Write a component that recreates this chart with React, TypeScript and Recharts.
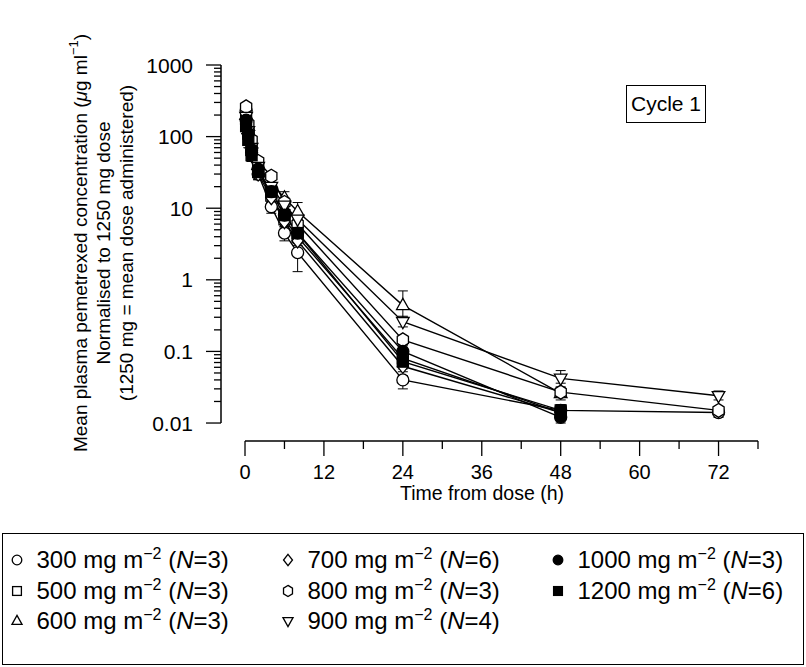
import React from "react"
import { ComposedChart, Line, XAxis, YAxis, ErrorBar, ReferenceLine } from "recharts"

// sampling times (h)
const times = [0.17, 0.5, 1, 2, 4, 6, 8, 24, 48, 72]

// mean concentrations, normalised to 1250 mg (ug/ml)
const c300 = [230, 120, 60, 30, 10.5, 4.5, 2.4, 0.04, 0.015, 0.014]
const c500 = [180, 110, 65, 33, 15, 7, 4, 0.08, 0.014, null]
const c600 = [200, 140, 80, 40, 22, 14, 9, 0.44, 0.026, null]
const c700 = [150, 100, 55, 30, 14, 6.5, 3.5, 0.062, 0.014, null]
const c800 = [260, 150, 90, 45, 28, 12, 6, 0.145, 0.027, 0.015]
const c900 = [190, 120, 70, 38, 20, 11, 7, 0.26, 0.042, 0.024]
const c1000 = [170, 110, 65, 35, 17, 8, 4.5, 0.1, 0.012, null]
const c1200 = [140, 90, 55, 32, 17, 8, 4.5, 0.072, 0.015, null]

// error bars [below, above]
const e300 = [[40, 30], [20, 20], [10, 10], [5, 5], [2, 2], [1, 1], [1.1, 0.8], [0.01, 0.006], [0.003, 0.003], [0.002, 0.003]]
const e500 = [[30, 30], [20, 20], [10, 10], [5, 5], [3, 3], [1, 1], [1, 1], [0.01, 0.01], [0.002, 0.002], null]
const e600 = [[40, 40], [20, 20], [10, 15], [6, 6], [4, 4], [3, 3], [2, 3], [0.14, 0.26], [0.005, 0.006], null]
const e700 = [[40, 50], [20, 20], [10, 10], [5, 5], [3, 3], [1, 1], [1, 1], [0.01, 0.01], [0.002, 0.002], null]
const e800 = [[30, 30], [20, 20], [10, 10], [5, 5], [3, 3], [2, 2], [1, 1], [0.02, 0.02], [0.004, 0.004], [0.002, 0.002]]
const e900 = [[30, 30], [20, 20], [10, 10], [5, 5], [3, 3], [2, 2], [1, 1], [0.04, 0.05], [0.006, 0.012], [0.003, 0.004]]
const e1000 = [[30, 30], [20, 20], [10, 10], [5, 5], [3, 3], [1, 1], [1, 1], [0.02, 0.02], [0.002, 0.002], null]
const e1200 = [[30, 30], [20, 20], [10, 10], [5, 5], [3, 3], [1, 1], [1, 1], [0.015, 0.015], [0.002, 0.003], null]

const doses = ["300", "500", "600", "700", "800", "900", "1000", "1200"]
const nPatients = [3, 3, 3, 6, 3, 4, 3, 6]

const xTicks = [0, 6, 12, 18, 24, 30, 36, 42, 48, 54, 60, 66, 72, 78]
const yMajor = [0.01, 0.1, 1, 10, 100, 1000]
const yMajorLabels = ["0.01", "0.1", "1", "10", "100", "1000"]
const yMinorSteps = [2, 3, 4, 5, 6, 7, 8, 9]
const yTicks = yMajor.slice(0, -1).flatMap((m) => [m, ...yMinorSteps.map((s) => m * s)]).concat([1000])

const FONT = "'Liberation Sans', Arial, Helvetica, sans-serif"

const build = (vals: (number | null)[], errs: (number[] | null)[]) =>
  times
    .map((t, i) => ({ t, v: vals[i], e: errs[i] }))
    .filter((d) => d.v != null)

const series = [
  { dose: "300", shape: "circle", data: build(c300, e300) },
  { dose: "500", shape: "square", data: build(c500, e500) },
  { dose: "600", shape: "triangle", data: build(c600, e600) },
  { dose: "700", shape: "diamond", data: build(c700, e700) },
  { dose: "800", shape: "hexagon", data: build(c800, e800) },
  { dose: "900", shape: "triangleDown", data: build(c900, e900) },
  { dose: "1000", shape: "filledCircle", data: build(c1000, e1000) },
  { dose: "1200", shape: "filledSquare", data: build(c1200, e1200) },
]

function Marker({ shape, cx, cy, s = 1 }: { shape: string; cx: number; cy: number; s?: number }) {
  const sw = 1.3
  const open = { fill: "#fff", stroke: "#000", strokeWidth: sw }
  const full = { fill: "#000", stroke: "#000", strokeWidth: sw }
  if (shape === "circle") return <circle cx={cx} cy={cy} r={6 * s} {...open} />
  if (shape === "filledCircle") return <circle cx={cx} cy={cy} r={6 * s} {...full} />
  if (shape === "square") return <rect x={cx - 5.5 * s} y={cy - 5.5 * s} width={11 * s} height={11 * s} {...open} />
  if (shape === "filledSquare") return <rect x={cx - 5.5 * s} y={cy - 5.5 * s} width={11 * s} height={11 * s} {...full} />
  const r = 7 * s
  let pts: number[][] = []
  if (shape === "triangle") pts = [[0, -r], [r * 0.9, r * 0.6], [-r * 0.9, r * 0.6]]
  if (shape === "triangleDown") pts = [[0, r], [r * 0.9, -r * 0.6], [-r * 0.9, -r * 0.6]]
  if (shape === "diamond") pts = [[0, -r], [r * 0.8, 0], [0, r], [-r * 0.8, 0]]
  if (shape === "hexagon") pts = [[0, -r], [r * 0.8, -r * 0.5], [r * 0.8, r * 0.5], [0, r], [-r * 0.8, r * 0.5], [-r * 0.8, -r * 0.5]]
  return <polygon points={pts.map(([a, b]) => `${cx + a},${cy + b}`).join(" ")} {...open} />
}

function YTick(props: any) {
  const { x, y, payload } = props
  const idx = yMajor.findIndex((m) => Math.abs(m - payload.value) < m * 1e-6)
  const major = idx >= 0
  return (
    <g>
      <line x1={x - (major ? 15 : 7)} x2={x} y1={y} y2={y} stroke="#000" strokeWidth={1.3} />
      {major && (
        <text x={x - 28} y={y + 7.5} textAnchor="end" fontSize={21} fontFamily={FONT} fill="#000">
          {yMajorLabels[idx]}
        </text>
      )}
    </g>
  )
}

function XTick(props: any) {
  const { x, y, payload } = props
  const major = payload.value % 12 === 0
  return (
    <g>
      <line x1={x} x2={x} y1={y} y2={y + (major ? 15 : 8)} stroke="#000" strokeWidth={1.3} />
      {major && (
        <text x={x} y={y + 38} textAnchor="middle" fontSize={20} fontFamily={FONT} fill="#000">
          {payload.value}
        </text>
      )}
    </g>
  )
}

function YLabel() {
  const cy = 243
  const rows = [80, 103, 126]
  return (
    <g fontFamily={FONT} fontSize={19} fill="#000">
      <text x={rows[0]} y={cy} transform={`rotate(-90 ${rows[0]} ${cy})`} textAnchor="middle" dominantBaseline="central">
        Mean plasma pemetrexed concentration (<tspan fontStyle="italic">μ</tspan>g ml
        <tspan dy={-7} fontSize={13}>−1</tspan>
        <tspan dy={7}>)</tspan>
      </text>
      <text x={rows[1]} y={cy} transform={`rotate(-90 ${rows[1]} ${cy})`} textAnchor="middle" dominantBaseline="central">
        Normalised to 1250 mg dose
      </text>
      <text x={rows[2]} y={cy} transform={`rotate(-90 ${rows[2]} ${cy})`} textAnchor="middle" dominantBaseline="central">
        (1250 mg = mean dose administered)
      </text>
    </g>
  )
}

function XLabel() {
  return (
    <text x={482} y={500} textAnchor="middle" fontSize={19.5} fontFamily={FONT} fill="#000">
      Time from dose (h)
    </text>
  )
}

function LegendItem({ shape, dose, n }: { shape: string; dose: string; n: number }) {
  return (
    <div style={{ display: "flex", alignItems: "center", height: 30.5, whiteSpace: "nowrap" }}>
      <svg width={16} height={16} style={{ marginRight: 12 }}>
        <Marker shape={shape} cx={8} cy={8} s={0.8} />
      </svg>
      <span>
        {dose} mg m<sup style={{ fontSize: 16, lineHeight: 0 }}>−2</sup> (<i>N</i>={n})
      </span>
    </div>
  )
}

export default function App() {
  const shapes = series.map((s) => s.shape)
  const cols = [[0, 1, 2], [3, 4, 5], [6, 7]]
  const colLeft = [5.5, 276.5, 546.5]
  return (
    <div style={{ position: "absolute", left: 0, top: 0, width: 806, height: 667, background: "#fff" }}>
      <ComposedChart width={806} height={530} margin={{ top: 65, right: 48, bottom: 29, left: 0 }}>
        <XAxis
          type="number"
          dataKey="t"
          domain={[-3.65, 78]}
          ticks={xTicks}
          interval={0}
          allowDataOverflow
          axisLine={false}
          tickLine={false}
          tickSize={0}
          tickMargin={0}
          tick={<XTick />}
          height={60}
          label={{ content: () => <XLabel /> }}
        />
        <YAxis
          type="number"
          scale="log"
          domain={[0.00561, 1000]}
          ticks={yTicks}
          interval={0}
          allowDataOverflow
          axisLine={false}
          tickLine={false}
          tickSize={0}
          tickMargin={0}
          tick={<YTick />}
          width={221}
          label={{ content: () => <YLabel /> }}
        />
        <ReferenceLine
          segment={[{ x: -3.65, y: 0.01 }, { x: -3.65, y: 1000 }]}
          stroke="#000"
          strokeWidth={1.5}
          ifOverflow="visible"
        />
        <ReferenceLine
          segment={[{ x: 0, y: 0.00561 }, { x: 78, y: 0.00561 }]}
          stroke="#000"
          strokeWidth={1.5}
          ifOverflow="visible"
        />
        {series.map((s) => (
          <Line
            key={s.dose}
            data={s.data}
            dataKey="v"
            type="linear"
            stroke="#000"
            strokeWidth={1.4}
            isAnimationActive={false}
            dot={(p: any) => <Marker key={`${s.dose}-${p.index}`} shape={s.shape} cx={p.cx} cy={p.cy} />}
            activeDot={false}
          >
            <ErrorBar dataKey="e" direction="y" width={5} stroke="#000" strokeWidth={1} />
          </Line>
        ))}
      </ComposedChart>
      <div
        style={{
          position: "absolute",
          left: 626,
          top: 85,
          width: 80,
          height: 38,
          border: "1.3px solid #000",
          boxSizing: "border-box",
          display: "flex",
          alignItems: "center",
          justifyContent: "center",
          fontFamily: FONT,
          fontSize: 21,
        }}
      >
        Cycle 1
      </div>
      <div
        style={{
          position: "absolute",
          left: 2,
          top: 533,
          width: 802,
          height: 132,
          border: "1.5px solid #000",
          boxSizing: "border-box",
          fontFamily: FONT,
          fontSize: 24,
        }}
      >
        {cols.map((c, ci) => (
          <div key={ci} style={{ position: "absolute", left: colLeft[ci], top: 11 }}>
            {c.map((i) => (
              <LegendItem key={i} shape={shapes[i]} dose={doses[i]} n={nPatients[i]} />
            ))}
          </div>
        ))}
      </div>
    </div>
  )
}
